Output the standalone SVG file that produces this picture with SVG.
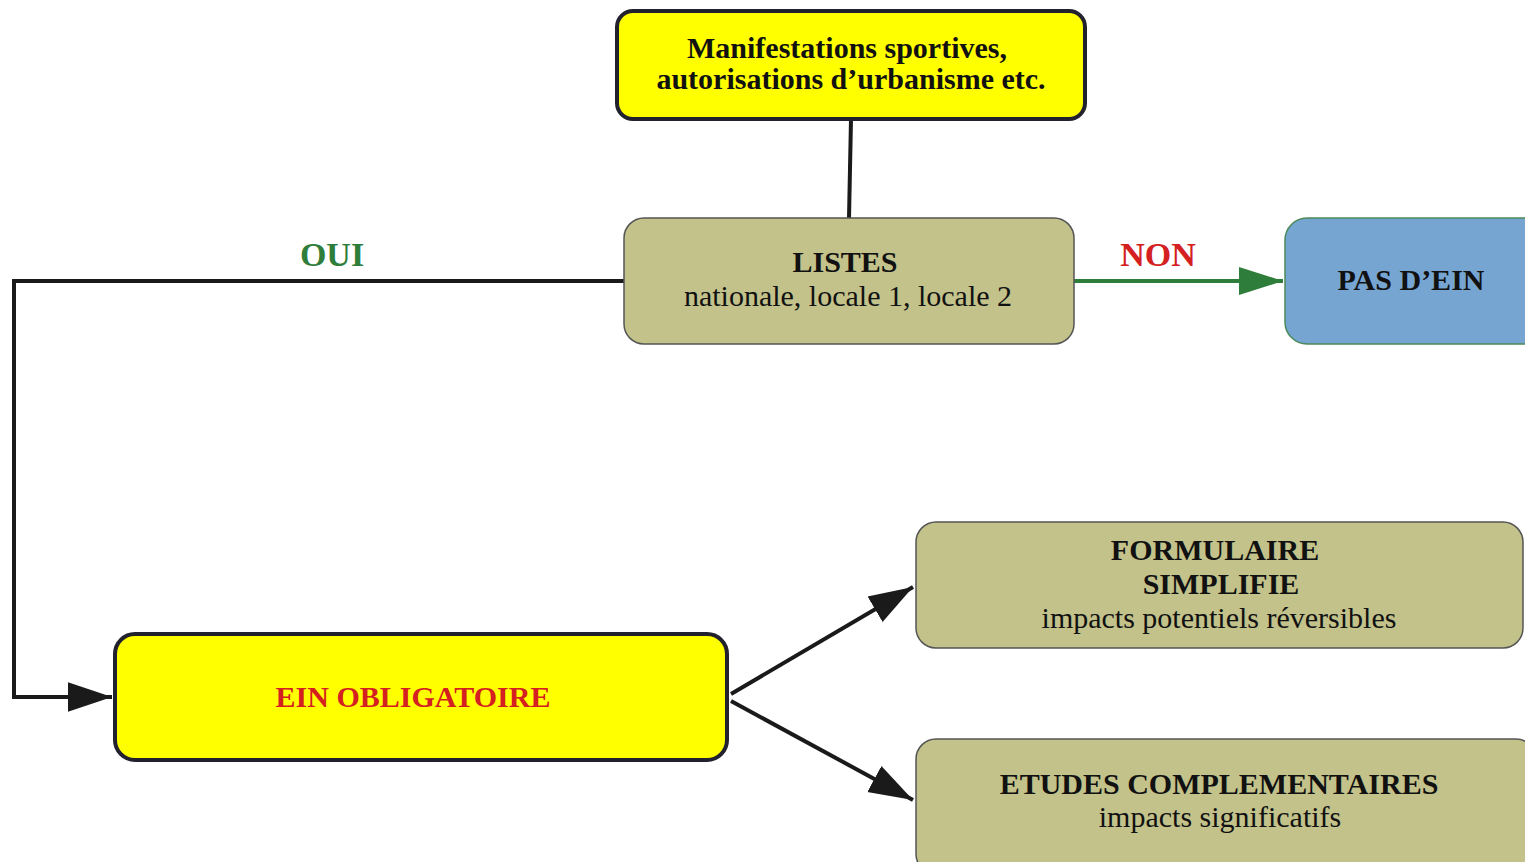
<svg xmlns="http://www.w3.org/2000/svg" width="1525" height="862" viewBox="0 0 1525 862">
<defs>
<style>
text{font-family:"Liberation Serif","Times New Roman",serif;text-anchor:middle;font-size:30px;fill:#111}
.b{font-weight:bold}
.yel{fill:#ffff00;stroke:#22222e;stroke-width:4}
.kha{fill:#c2c28a;stroke:#555;stroke-width:1.5}
.con{fill:none;stroke:#1a1a1a;stroke-width:4}
</style>
<marker id="ak" markerWidth="12" markerHeight="10" refX="11" refY="5" orient="auto" markerUnits="strokeWidth"><path d="M0,1.3 L11,5 L0,8.7 Z" fill="#1a1a1a"/></marker>
<marker id="ag" markerWidth="12" markerHeight="10" refX="11" refY="5" orient="auto" markerUnits="strokeWidth"><path d="M0,1.5 L11,5 L0,8.5 Z" fill="#2e7d3a"/></marker>
</defs>
<g id="connectors">
<line class="con" x1="851" y1="119" x2="849" y2="218"/>
<polyline class="con" points="624,281 14,281 14,697 112,697" marker-end="url(#ak)"/>
<line x1="1074" y1="281" x2="1283" y2="281" stroke="#2e7d3a" stroke-width="4" marker-end="url(#ag)"/>
<line class="con" x1="731" y1="694" x2="913" y2="587" marker-end="url(#ak)"/>
<line class="con" x1="731" y1="701" x2="913" y2="800" marker-end="url(#ak)"/>
<text x="332" y="266" class="b" style="fill:#2e7d3a;font-size:34px">OUI</text>
<text x="1158" y="266" class="b" style="fill:#d42020;font-size:34px">NON</text>
</g>
<g id="top">
<rect class="yel" x="617" y="11" width="468" height="108" rx="16"/>
<text x="847" y="58" class="b">Manifestations sportives,</text>
<text x="851" y="89" class="b">autorisations d’urbanisme etc.</text>
</g>
<g id="listes">
<rect class="kha" x="624" y="218" width="450" height="126" rx="20"/>
<text x="845" y="272" class="b">LISTES</text>
<text x="848" y="306">nationale, locale 1, locale 2</text>
</g>
<g id="pasdein">
<rect x="1285" y="218" width="260" height="126" rx="22" fill="#76a5d2" stroke="#4a8a5a" stroke-width="1.5"/>
<text x="1411" y="290" class="b">PAS D’EIN</text>
</g>
<g id="ein">
<rect class="yel" x="115" y="634" width="612" height="126" rx="20"/>
<text x="413" y="707" class="b" style="fill:#d42020">EIN OBLIGATOIRE</text>
</g>
<g id="formulaire">
<rect class="kha" x="916" y="522" width="607" height="126" rx="20"/>
<text x="1215" y="560" class="b">FORMULAIRE</text>
<text x="1221" y="594" class="b">SIMPLIFIE</text>
<text x="1219" y="628">impacts potentiels réversibles</text>
</g>
<g id="etudes">
<rect class="kha" x="916" y="739" width="620" height="135" rx="20"/>
<text x="1219" y="794" class="b">ETUDES COMPLEMENTAIRES</text>
<text x="1220" y="827">impacts significatifs</text>
</g>
</svg>
